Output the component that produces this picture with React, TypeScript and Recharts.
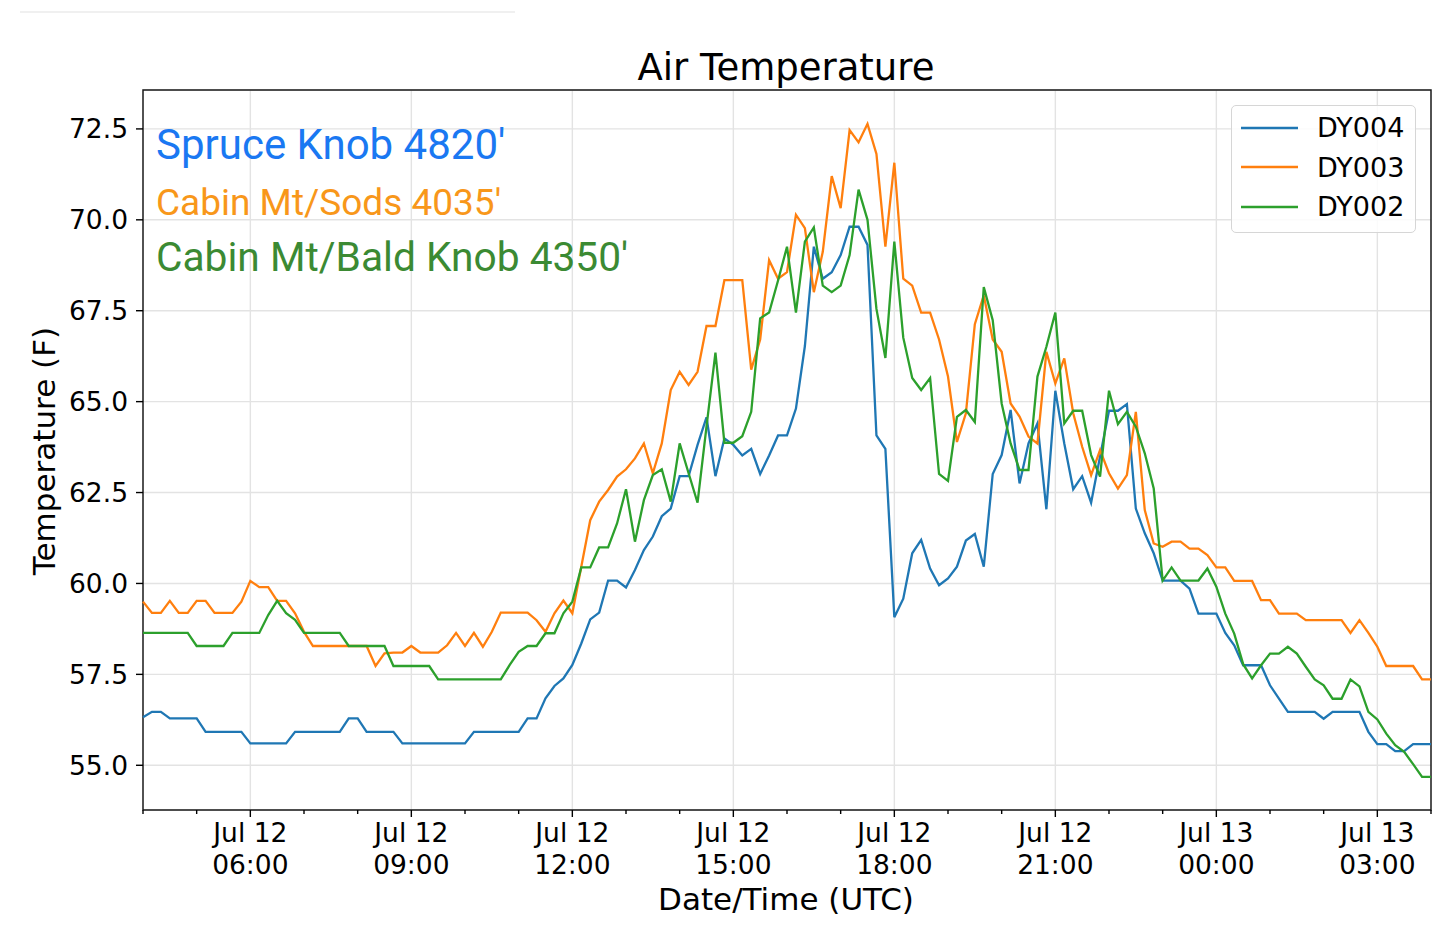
import React from 'react';
import { LineChart, Line, XAxis, YAxis, CartesianGrid, Legend, ReferenceArea } from 'recharts';

// 10-minute readings, Jul 12 04:00 UTC to Jul 13 04:00 UTC (index = step)
const dy004 = [
  56.32, 56.47, 56.47, 56.29, 56.29, 56.29, 56.29, 55.92, 55.92, 55.92,
  55.92, 55.92, 55.6, 55.6, 55.6, 55.6, 55.6, 55.92, 55.92, 55.92,
  55.92, 55.92, 55.92, 56.29, 56.29, 55.92, 55.92, 55.92, 55.92, 55.6,
  55.6, 55.6, 55.6, 55.6, 55.6, 55.6, 55.6, 55.92, 55.92, 55.92,
  55.92, 55.92, 55.92, 56.29, 56.29, 56.84, 57.18, 57.39, 57.76, 58.35,
  59.01, 59.2, 60.08, 60.08, 59.89, 60.37, 60.92, 61.29, 61.85, 62.06,
  62.95, 62.95, 63.81, 64.57, 62.95, 63.99, 63.81, 63.52, 63.7, 63.01,
  63.52, 64.07, 64.07, 64.81, 66.53, 69.26, 68.38, 68.56, 69.03, 69.81,
  69.81, 69.31, 64.07, 63.7, 59.07, 59.58, 60.83, 61.2, 60.41, 59.95,
  60.14, 60.46, 61.18, 61.36, 60.46, 63.01, 63.53, 64.77, 62.75, 63.85,
  64.4, 62.04, 65.3, 63.85, 62.59, 62.95, 62.22, 63.49, 64.75, 64.75,
  64.93, 62.06, 61.38, 60.83, 60.08, 60.08, 60.08, 59.86, 59.17, 59.17,
  59.17, 58.64, 58.3, 57.75, 57.75, 57.75, 57.2, 56.83, 56.47, 56.47,
  56.47, 56.47, 56.28, 56.47, 56.47, 56.47, 56.47, 55.92, 55.58, 55.58,
  55.39, 55.39, 55.58, 55.58, 55.58,
];

const dy003 = [
  59.5, 59.19, 59.19, 59.52, 59.19, 59.19, 59.52, 59.52, 59.19, 59.19,
  59.19, 59.5, 60.07, 59.9, 59.9, 59.52, 59.52, 59.18, 58.67, 58.28,
  58.28, 58.28, 58.28, 58.28, 58.28, 58.28, 57.73, 58.08, 58.1, 58.1,
  58.28, 58.1, 58.1, 58.1, 58.3, 58.64, 58.28, 58.64, 58.26, 58.67,
  59.2, 59.2, 59.2, 59.2, 58.99, 58.67, 59.18, 59.53, 59.18, 60.46,
  61.74, 62.25, 62.57, 62.94, 63.14, 63.44, 63.85, 63.03, 63.85, 65.32,
  65.82, 65.46, 65.82, 67.08, 67.08, 68.34, 68.34, 68.34, 65.88, 66.71,
  68.89, 68.38, 68.56, 70.14, 69.77, 68.01, 69.12, 71.2, 70.32, 72.47,
  72.13, 72.64, 71.81, 69.26, 71.57, 68.38, 68.19, 67.45, 67.45, 66.71,
  65.69, 63.89, 64.68, 67.13, 67.92, 66.71, 66.37, 64.95, 64.59, 64.04,
  63.85, 66.37, 65.5, 66.19, 64.68, 63.76, 62.98, 63.67, 63.03, 62.61,
  62.98, 64.72, 62.02, 61.1, 61.01, 61.15, 61.15, 60.96, 60.96, 60.78,
  60.44, 60.44, 60.07, 60.07, 60.07, 59.54, 59.54, 59.17, 59.17, 59.17,
  58.99, 58.99, 58.99, 58.99, 58.99, 58.64, 58.99, 58.64, 58.26, 57.73,
  57.73, 57.73, 57.73, 57.36, 57.36,
];

const dy002 = [
  58.64, 58.64, 58.64, 58.64, 58.64, 58.64, 58.28, 58.28, 58.28, 58.28,
  58.64, 58.64, 58.64, 58.64, 59.13, 59.52, 59.18, 59.0, 58.64, 58.64,
  58.64, 58.64, 58.64, 58.28, 58.28, 58.28, 58.28, 58.28, 57.73, 57.73,
  57.73, 57.73, 57.73, 57.36, 57.36, 57.36, 57.36, 57.36, 57.36, 57.36,
  57.36, 57.76, 58.12, 58.28, 58.28, 58.63, 58.63, 59.18, 59.5, 60.44,
  60.44, 60.99, 60.99, 61.65, 62.59, 61.15, 62.29, 62.98, 63.14, 62.25,
  63.85, 63.03, 62.22, 64.31, 66.35, 63.87, 63.87, 64.05, 64.72, 67.29,
  67.45, 68.33, 69.26, 67.45, 69.4, 69.79, 68.19, 68.01, 68.19, 69.03,
  70.83, 70.0, 67.55, 66.2, 69.4, 66.76, 65.65, 65.32, 65.65, 63.01,
  62.82, 64.58, 64.77, 64.44, 68.15, 67.24, 64.95, 63.85, 63.12, 63.12,
  65.69, 66.51, 67.45, 64.4, 64.75, 64.75, 63.53, 62.94, 65.3, 64.38,
  64.72, 64.31, 63.58, 62.61, 60.08, 60.44, 60.08, 60.08, 60.08, 60.41,
  59.91, 59.17, 58.62, 57.78, 57.39, 57.75, 58.07, 58.07, 58.26, 58.07,
  57.71, 57.36, 57.2, 56.83, 56.83, 57.36, 57.17, 56.47, 56.26, 55.87,
  55.55, 55.37, 55.03, 54.68, 54.68,
];

// hourly ticks (in 10-min steps), labelled every 3 hours
const hourTicks = [0, 6, 12, 18, 24, 30, 36, 42, 48, 54, 60, 66, 72, 78, 84, 90, 96, 102, 108, 114, 120, 126, 132, 138, 144];
const majorTicks = [12, 30, 48, 66, 84, 102, 120, 138];
const majorDates = ['Jul 12', 'Jul 12', 'Jul 12', 'Jul 12', 'Jul 12', 'Jul 12', 'Jul 13', 'Jul 13'];
const majorTimes = ['06:00', '09:00', '12:00', '15:00', '18:00', '21:00', '00:00', '03:00'];
const yTicks = [55, 57.5, 60, 62.5, 65, 67.5, 70, 72.5];
const yDomain = [53.77, 73.57];
const legendOrder = ['DY004', 'DY003', 'DY002'];

const rows = dy004.map((v, i) => ({ i, DY004: v, DY003: dy003[i], DY002: dy002[i] }));

const FONT = 'DejaVu Sans, sans-serif';

function TimeTick({ x, y, payload }: any) {
  const k = majorTicks.indexOf(payload.value);
  const major = k >= 0;
  return (
    <g>
      <line x1={x} x2={x} y1={y} y2={y + (major ? 7 : 4)} stroke="#000" strokeWidth={1.4} />
      {major && (
        <text x={x} y={y + 32} textAnchor="middle" fontSize={26.5} fontFamily={FONT} fill="#000">
          <tspan x={x}>{majorDates[k]}</tspan>
          <tspan x={x} dy={32}>{majorTimes[k]}</tspan>
        </text>
      )}
    </g>
  );
}

function LegendBox({ payload }: any) {
  const items = legendOrder
    .map((name) => (payload || []).find((p: any) => p.value === name))
    .filter(Boolean);
  return (
    <div
      style={{
        border: '1.5px solid #d6d6d6',
        borderRadius: 5,
        background: 'rgba(255,255,255,0.85)',
        padding: '2px 0 5px 8px',
        boxSizing: 'border-box',
        width: 185,
      }}
    >
      {items.map((p: any) => (
        <div key={p.value} style={{ display: 'flex', alignItems: 'center', height: 39.5 }}>
          <svg width={60} height={10} style={{ marginRight: 17 }}>
            <line x1={1} x2={58} y1={5} y2={5} stroke={p.color} strokeWidth={2.3} />
          </svg>
          <span style={{ fontFamily: FONT, fontSize: 27, color: '#000' }}>{p.value}</span>
        </div>
      ))}
    </div>
  );
}

export default function App() {
  return (
    <div style={{ position: 'absolute', left: 0, top: 0, width: 1440, height: 943, background: '#fff' }}>
      <div style={{ position: 'absolute', left: 20, top: 11, width: 495, height: 2, background: '#f0f0f0' }} />
      <LineChart width={1440} height={943} data={rows} margin={{ top: 90, right: 9, bottom: 0, left: 0 }}>
        <CartesianGrid stroke="#e3e3e3" strokeWidth={1.4} verticalValues={majorTicks} />
        <XAxis
          dataKey="i"
          type="number"
          domain={[0, 144]}
          ticks={hourTicks}
          interval={0}
          height={133}
          tickSize={0}
          tickMargin={0}
          tickLine={false}
          axisLine={false}
          tick={<TimeTick />}
        />
        <YAxis
          type="number"
          domain={yDomain}
          allowDataOverflow
          ticks={yTicks}
          interval={0}
          width={143}
          tickSize={7}
          tickMargin={8}
          axisLine={false}
          tickLine={{ stroke: '#000', strokeWidth: 1.4 }}
          tickFormatter={(v: number) => v.toFixed(1)}
          tick={{ fill: '#000', fontSize: 26.5, fontFamily: FONT }}
        />
        <Line type="linear" dataKey="DY004" stroke="#1f77b4" strokeWidth={2.3} dot={false} isAnimationActive={false} />
        <Line type="linear" dataKey="DY003" stroke="#ff7f0e" strokeWidth={2.3} dot={false} isAnimationActive={false} />
        <Line type="linear" dataKey="DY002" stroke="#2ca02c" strokeWidth={2.3} dot={false} isAnimationActive={false} />
        <ReferenceArea
          x1={0}
          x2={144}
          y1={yDomain[0]}
          y2={yDomain[1]}
          fill="none"
          fillOpacity={0}
          stroke="#1a1a1a"
          strokeWidth={1.5}
          ifOverflow="visible"
        />
        <Legend
          layout="vertical"
          align="center"
          verticalAlign="middle"
          wrapperStyle={{ left: 1231, top: 105, width: 185 }}
          content={<LegendBox />}
        />
      </LineChart>
      <svg
        width={1440}
        height={943}
        style={{ position: 'absolute', left: 0, top: 0, pointerEvents: 'none' }}
      >
        <text x={786} y={80} textAnchor="middle" fontSize={37} fontFamily={FONT} fill="#000">
          Air Temperature
        </text>
        <text x={786} y={910} textAnchor="middle" fontSize={31} fontFamily={FONT} fill="#000">
          Date/Time (UTC)
        </text>
        <text
          x={55}
          y={451}
          textAnchor="middle"
          fontSize={31}
          fontFamily={FONT}
          fill="#000"
          transform="rotate(-90 55 451)"
        >
          Temperature (F)
        </text>
        <text x={156} y={159} fontSize={42} fontFamily="Roboto, sans-serif" fill="#1a78f2">
          Spruce Knob 4820'
        </text>
        <text x={156} y={215} fontSize={37} fontFamily="Roboto, sans-serif" fill="#f8971a">
          Cabin Mt/Sods 4035'
        </text>
        <text x={156} y={271} fontSize={40.7} fontFamily="Roboto, sans-serif" fill="#3b8a33">
          Cabin Mt/Bald Knob 4350'
        </text>
      </svg>
    </div>
  );
}
